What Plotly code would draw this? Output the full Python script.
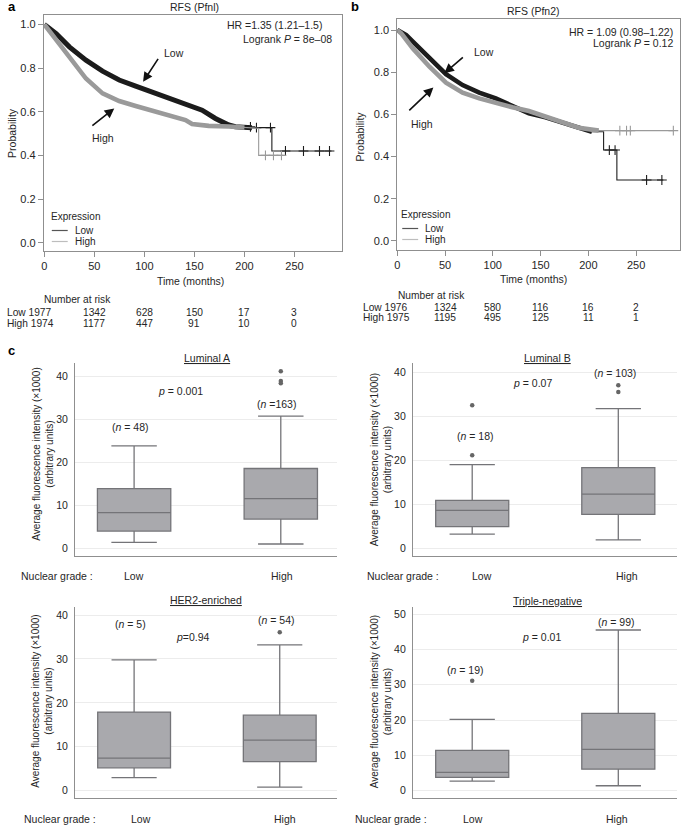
import numpy as np
import plotly.graph_objects as go

W, H = 685, 825
FONT = "Liberation Sans, Arial, Helvetica, sans-serif"
TXT = "#262626"

# ---------------- Kaplan-Meier data ----------------
# Panel a: RFS (Pfnl)
a_low_t = [0, 11.8, 25, 41.6, 58.2, 74.8, 91.3, 107.9, 124.5, 141.1, 157.7, 171, 184.3, 190.9, 207.5, 227.4, 227.4, 287]
a_low_p = [1.0, 0.958, 0.897, 0.836, 0.786, 0.745, 0.717, 0.691, 0.661, 0.635, 0.607, 0.569, 0.539, 0.531, 0.527, 0.527, 0.42, 0.42]
a_high_t = [0, 8.3, 25, 41.6, 58.2, 74.8, 91.3, 107.9, 124.5, 141.1, 147.7, 164.3, 184.3, 200, 214.2, 214.2, 239]
a_high_p = [1.0, 0.951, 0.844, 0.752, 0.684, 0.649, 0.626, 0.605, 0.588, 0.562, 0.544, 0.535, 0.532, 0.528, 0.524, 0.40, 0.40]
a_low_cens = [206, 212, 226, 241, 259, 275, 285]
a_high_cens = [221, 229, 237]
a_low_dense_end = 208
a_high_dense_end = 201

# Panel b: RFS (Pfn2)
b_low_t = [0, 9.4, 16.3, 33.7, 51, 68.4, 85.8, 103.1, 120.5, 137.8, 155.2, 172.6, 190, 203.8, 216, 216, 229.9, 229.9, 278.5]
b_low_p = [1.0, 0.976, 0.945, 0.866, 0.791, 0.739, 0.703, 0.676, 0.64, 0.605, 0.586, 0.561, 0.534, 0.518, 0.518, 0.431, 0.431, 0.289, 0.289]
b_high_t = [0, 4.2, 16.3, 33.7, 51, 68.4, 85.8, 103.1, 120.5, 137.8, 155.2, 172.6, 190, 210.9, 289]
b_high_p = [1.0, 0.984, 0.913, 0.826, 0.75, 0.703, 0.676, 0.653, 0.634, 0.616, 0.589, 0.565, 0.537, 0.523, 0.523]
b_low_cens = [222, 228, 261, 277]
b_high_cens = [233, 240, 244, 289]
b_low_dense_end = 214
b_high_dense_end = 214

# Number at risk
risk_times = [0, 50, 100, 150, 200, 250]
a_risk_low = [1977, 1342, 628, 150, 17, 3]
a_risk_high = [1974, 1177, 447, 91, 10, 0]
b_risk_low = [1976, 1324, 580, 116, 16, 2]
b_risk_high = [1975, 1195, 495, 125, 11, 1]

km_xticks = [0, 50, 100, 150, 200, 250]
km_yticks = [0.0, 0.2, 0.4, 0.6, 0.8, 1.0]

# ---------------- Box plot data ----------------
grades = ["Low", "High"]
lumA_q1 = [4.0, 6.8]; lumA_med = [8.3, 11.6]; lumA_q3 = [13.9, 18.6]
lumA_lo = [1.4, 1.0]; lumA_hi = [23.9, 30.8]
lumA_out_low = []; lumA_out_high = [41.3, 39.0, 38.5]
lumA_n = [48, 163]; lumA_p = "0.001"

lumB_q1 = [4.9, 7.7]; lumB_med = [8.6, 12.3]; lumB_q3 = [10.9, 18.3]
lumB_lo = [3.2, 1.9]; lumB_hi = [19.0, 31.7]
lumB_out_low = [21.1, 32.5]; lumB_out_high = [37.0, 35.5]
lumB_n = [18, 103]; lumB_p = "0.07"

her2_q1 = [5.2, 6.6]; her2_med = [7.4, 11.5]; her2_q3 = [17.9, 17.2]
her2_lo = [3.0, 0.8]; her2_hi = [29.8, 33.2]
her2_out_low = []; her2_out_high = [36.1]
her2_n = [5, 54]; her2_p = "0.94"

tn_q1 = [3.8, 6.1]; tn_med = [5.2, 11.7]; tn_q3 = [11.4, 21.9]
tn_lo = [2.7, 1.4]; tn_hi = [20.2, 45.5]
tn_out_low = [31.1]; tn_out_high = []
tn_n = [19, 99]; tn_p = "0.01"

# ---------------- helpers ----------------
def PX(x):
    return x / W

def PY(y):
    return 1 - y / H

def dom_x(a, b):
    return [a / W, b / W]

def dom_y(top, bot):
    return [1 - bot / H, 1 - top / H]

anns = []
shapes = []

def ptext(text, x, y, size=10.5, xanchor="center", yanchor="middle", color=TXT, angle=0, bold=False):
    if bold:
        text = "<b>" + text + "</b>"
    anns.append(dict(text=text, x=PX(x), y=PY(y), xref="paper", yref="paper",
                     xanchor=xanchor, yanchor=yanchor, showarrow=False, textangle=angle,
                     font=dict(family=FONT, size=size, color=color)))

fig = go.Figure()

KM_LOW = "#1c1c1c"
KM_HIGH = "#9a9a9a"

def step_at(t, p, tc):
    t = np.asarray(t); p = np.asarray(p)
    idx = np.searchsorted(t, tc, side="right") - 1
    return p[idx]

def km(t, p, dense_end, cens, color, band_w, xa, ya):
    t = np.asarray(t); p = np.asarray(p)
    m = t <= dense_end
    fig.add_trace(go.Scatter(x=t[m], y=p[m], mode="lines", xaxis=xa, yaxis=ya,
                             line=dict(color=color, width=band_w), hoverinfo="skip", showlegend=False))
    fig.add_trace(go.Scatter(x=t, y=p, mode="lines", xaxis=xa, yaxis=ya,
                             line=dict(color=color, width=1.1), hoverinfo="skip", showlegend=False))
    cy = step_at(t, p, np.asarray(cens))
    fig.add_trace(go.Scatter(x=cens, y=cy, mode="markers", xaxis=xa, yaxis=ya,
                             marker=dict(symbol="cross-thin", size=7, line=dict(color=color, width=1.1)),
                             hoverinfo="skip", showlegend=False))

km(a_low_t, a_low_p, a_low_dense_end, a_low_cens, KM_LOW, 5, "x", "y")
km(a_high_t, a_high_p, a_high_dense_end, a_high_cens, KM_HIGH, 4.6, "x", "y")
km(b_low_t, b_low_p, b_low_dense_end, b_low_cens, KM_LOW, 4.6, "x2", "y2")
km(b_high_t, b_high_p, b_high_dense_end, b_high_cens, KM_HIGH, 4.6, "x2", "y2")

# ---------------- Box plots ----------------
BOX_FILL = "#a9a9ad"
BOX_LINE = "#747478"

box_panels = [
    ("x3", "y3", lumA_q1, lumA_med, lumA_q3, lumA_lo, lumA_hi, lumA_out_low, lumA_out_high),
    ("x4", "y4", lumB_q1, lumB_med, lumB_q3, lumB_lo, lumB_hi, lumB_out_low, lumB_out_high),
    ("x5", "y5", her2_q1, her2_med, her2_q3, her2_lo, her2_hi, her2_out_low, her2_out_high),
    ("x6", "y6", tn_q1, tn_med, tn_q3, tn_lo, tn_hi, tn_out_low, tn_out_high),
]
for xa, ya, q1, med, q3, lo, hi, ol, oh in box_panels:
    fig.add_trace(go.Box(x=[0, 1], q1=q1, median=med, q3=q3, lowerfence=lo, upperfence=hi,
                         xaxis=xa, yaxis=ya, width=0.5, whiskerwidth=0.62,
                         fillcolor=BOX_FILL, line=dict(color=BOX_LINE, width=1.3),
                         boxpoints=False, hoverinfo="skip", showlegend=False))
    ox = [0] * len(ol) + [1] * len(oh)
    oy = list(ol) + list(oh)
    if oy:
        fig.add_trace(go.Scatter(x=ox, y=oy, mode="markers", xaxis=xa, yaxis=ya,
                                 marker=dict(color="#666666", size=4.5),
                                 hoverinfo="skip", showlegend=False))

# ---------------- Axes ----------------
tickfont = dict(family=FONT, size=11, color=TXT)
AX = "#8f8f8f"

def km_axes(dx, dy, xr, yr, anchor_x, anchor_y):
    xa = dict(domain=dom_x(*dx), range=xr, anchor=anchor_y, tickvals=km_xticks,
              ticks="outside", ticklen=5, tickcolor=AX, showline=True, mirror=True,
              linecolor=AX, linewidth=1, showgrid=False, zeroline=False, tickfont=tickfont)
    ya = dict(domain=dom_y(*dy), range=yr, anchor=anchor_x, tickvals=km_yticks, tickformat=".1f",
              ticks="outside", ticklen=5, tickcolor=AX, showline=True, mirror=True,
              linecolor=AX, linewidth=1, showgrid=False, zeroline=False, tickfont=tickfont)
    return xa, ya

xa1, ya1 = km_axes((41, 340), (15, 251), [-0.5, 297], [-0.038, 1.043], "x", "y")
xa2, ya2 = km_axes((396, 680), (19.3, 250), [0, 296], [-0.043, 1.051], "x2", "y2")

def box_axes(dx, dy, xr, yr, yt, anchor_x, anchor_y):
    xa = dict(domain=dom_x(*dx), range=xr, anchor=anchor_y, showticklabels=False, ticks="",
              showline=True, linecolor=AX, linewidth=1, showgrid=False, zeroline=False)
    ya = dict(domain=dom_y(*dy), range=yr, anchor=anchor_x, tickvals=yt, ticks="outside",
              ticklen=4, tickcolor="rgba(0,0,0,0)", showline=True, linecolor=AX, linewidth=1,
              showgrid=True, gridcolor="#ececec", gridwidth=1, zeroline=False,
              tickfont=dict(family=FONT, size=10.5, color=TXT))
    return xa, ya

xa3, ya3 = box_axes((72.3, 335), (363, 556), [-0.403, 1.38], [-1.8, 43.2], [0, 10, 20, 30, 40], "x3", "y3")
xa4, ya4 = box_axes((411.7, 676.7), (363.3, 555.7), [-0.406, 1.4], [-1.68, 42.0], [0, 10, 20, 30, 40], "x4", "y4")
xa5, ya5 = box_axes((72.3, 335), (606.7, 798.3), [-0.406, 1.39], [-1.73, 41.9], [0, 10, 20, 30, 40], "x5", "y5")
xa6, ya6 = box_axes((411.7, 676.7), (606.7, 798.3), [-0.406, 1.4], [-2.15, 52.1], [0, 10, 20, 30, 40, 50], "x6", "y6")

# ---------------- KM texts ----------------
ptext("a", 3, 6, size=13, xanchor="left", bold=True, color="#000")
ptext("b", 348, 6, size=13, xanchor="left", bold=True, color="#000")
ptext("c", 3, 350, size=13, xanchor="left", bold=True, color="#000")

ptext("RFS (Pfnl)", 192, 7, size=10.5)
ptext("RFS (Pfn2)", 533, 11, size=10.5)
ptext("HR =1.35 (1.21–1.5)", 322, 25, size=10.5, xanchor="right")
ptext("Logrank <i>P</i> = 8e–08", 332, 39, size=10.5, xanchor="right")
ptext("HR = 1.09 (0.98–1.22)", 675, 31.5, size=10.5, xanchor="right")
ptext("Logrank <i>P</i> = 0.12", 675, 43, size=10.5, xanchor="right")

ptext("Probability", 9, 133, size=10.5, angle=-90)
ptext("Probability", 359, 136, size=10.5, angle=-90)
ptext("Time (months)", 188, 281, size=10.5)
ptext("Time (months)", 533, 279, size=10.5)

# legends
for (lx, ly) in [(46, 216.5), (398, 214.5)]:
    ptext("Expression", lx, ly, size=10, xanchor="left")
    for k, (lab, col) in enumerate([("Low", "#555555"), ("High", "#bdbdbd")]):
        yy = ly + 14 + k * 11
        shapes.append(dict(type="line", xref="paper", yref="paper", x0=PX(lx + 3), x1=PX(lx + 19),
                           y0=PY(yy), y1=PY(yy), line=dict(color=col, width=1.2)))
        ptext(lab, lx + 24, yy, size=10, xanchor="left")

# arrows
def arrow(x, y, ax, ay, xr, yr):
    anns.append(dict(x=x, y=y, xref=xr, yref=yr, ax=ax, ay=ay, axref="pixel", ayref="pixel",
                     text="", showarrow=True, arrowhead=2, arrowsize=1.2, arrowwidth=1.6,
                     arrowcolor="#111111"))

def dtext(text, x, y, xr, yr, size=10.5):
    anns.append(dict(text=text, x=x, y=y, xref=xr, yref=yr, showarrow=False,
                     font=dict(family=FONT, size=size, color=TXT)))

arrow(98.7, 0.737, 16, -24.4, "x", "y")
dtext("Low", 129.6, 0.867, "x", "y")
arrow(69.9, 0.615, -23.4, 18.4, "x", "y")
dtext("High", 58.2, 0.478, "x", "y")
arrow(49.3, 0.795, 20, -17.3, "x2", "y2")
dtext("Low", 90.9, 0.897, "x2", "y2")
arrow(37.8, 0.728, -25.6, 24.4, "x2", "y2")
dtext("High", 26, 0.555, "x2", "y2")

# number at risk tables
def risk_table(xr, nar_x, nar_y, low_y, high_y, lab_x, low_vals, high_vals):
    ptext("Number at risk", nar_x, nar_y, size=10.2)
    ptext("Low %d" % low_vals[0], lab_x, low_y, size=10.2, xanchor="left")
    ptext("High %d" % high_vals[0], lab_x, high_y, size=10.2, xanchor="left")
    for tt, lv, hv in zip(risk_times[1:], low_vals[1:], high_vals[1:]):
        for v, yy in [(lv, low_y), (hv, high_y)]:
            anns.append(dict(text=str(v), x=tt, y=PY(yy), xref=xr, yref="paper", showarrow=False,
                             xanchor="center", yanchor="middle",
                             font=dict(family=FONT, size=10.2, color=TXT)))

risk_table("x", 75, 299, 312, 323.5, 2, a_risk_low, a_risk_high)
risk_table("x2", 430, 295, 307.5, 317, 360, b_risk_low, b_risk_high)

# ---------------- Box texts ----------------
YT = "Average fluorescence intensity (×1000)<br>(arbitrary units)"
box_text = [
    ("x3", "y3", "Luminal A", (205, 358), (40, 454), 576, 54, 131.7, 280, lumA_n, lumA_p,
     (-0.025, 28.2), (0.973, 33.7), (0.314, 36.6), "<i>p</i> = "),
    ("x4", "y4", "Luminal B", (546.7, 358.3), (380, 459), 576, 401.7, 481, 626.7, lumB_n, lumB_p,
     (0.02, 25.5), (0.975, 39.9), (0.41, 37.5), "<i>p</i> = "),
    ("x5", "y5", "HER2-enriched", (204, 600), (39, 701), 819.3, 57, 138.3, 283.3, her2_n, her2_p,
     (-0.023, 38.0), (0.98, 38.8), (0.405, 35.0), "<i>p</i>="),
    ("x6", "y6", "Triple-negative", (546.7, 600.7), (380, 701), 819.3, 390, 471.7, 616.7, tn_n, tn_p,
     (-0.043, 34.3), (0.99, 47.9), (0.475, 43.6), "<i>p</i> = "),
]
for (xa, ya, title, txy, ytxy, gy, ngx, lx, hx, n, p, nl, nh, pxy, ppre) in box_text:
    ptext("<u>" + title + "</u>", txy[0], txy[1], size=10.5)
    ptext(YT, ytxy[0], ytxy[1], size=10, angle=-90)
    ptext("Nuclear grade :", ngx, gy, size=10.5)
    ptext(grades[0], lx, gy, size=10.5)
    ptext(grades[1], hx, gy, size=10.5)
    n_low_str = "(<i>n</i> = %d)" % n[0]
    n_high_str = "(<i>n</i> =%d)" % n[1] if n[1] >= 150 else "(<i>n</i> = %d)" % n[1]
    dtext(n_low_str, nl[0], nl[1], xa, ya)
    dtext(n_high_str, nh[0], nh[1], xa, ya)
    dtext(ppre + p, pxy[0], pxy[1], xa, ya)

fig.update_layout(
    width=W, height=H, margin=dict(l=0, r=0, t=0, b=0),
    paper_bgcolor="white", plot_bgcolor="white", showlegend=False,
    font=dict(family=FONT, color=TXT),
    xaxis=xa1, yaxis=ya1, xaxis2=xa2, yaxis2=ya2,
    xaxis3=xa3, yaxis3=ya3, xaxis4=xa4, yaxis4=ya4,
    xaxis5=xa5, yaxis5=ya5, xaxis6=xa6, yaxis6=ya6,
    annotations=anns, shapes=shapes,
)

fig.write_html("out.html", config={"displayModeBar": False},
               post_script="document.body.style.margin='0px';document.body.style.padding='0px';")
